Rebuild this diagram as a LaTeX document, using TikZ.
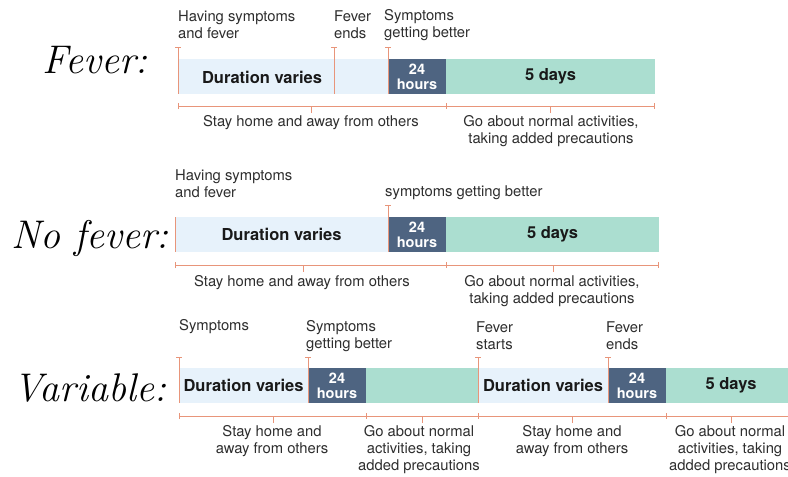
\documentclass[tikz,border=0pt]{standalone}
\usepackage{fontspec}
\newfontfamily\heros{TeX Gyre Heros}
\usetikzlibrary{positioning,arrows.meta}
\definecolor{waitblue}{HTML}{E7F2FB}
\definecolor{hourblue}{HTML}{4E6481}
\definecolor{restgreen}{HTML}{ABDED0}
\definecolor{tickred}{HTML}{E8957A}
\definecolor{labelgray}{HTML}{2E2E2E}

\tikzset{
  seg/.style={inner sep=0pt, outer sep=0pt, minimum height=35pt,
    font=\heros\bfseries\fontsize{16.5}{18}\selectfont, text=black!90},
  wait/.style={seg, fill=waitblue},
  hours/.style={seg, fill=hourblue, text=white, align=center, minimum width=58pt,
    font=\heros\bfseries\fontsize{14.5}{15}\selectfont},
  rest/.style={seg, fill=restgreen},
  toplabel/.style={anchor=west, align=left, inner sep=0pt, text=labelgray,
    font=\heros\fontsize{14.8}{17}\selectfont},
  botlabel/.style={align=center, inner sep=0pt, text=labelgray,
    font=\heros\fontsize{14.8}{17}\selectfont},
  hand/.style={font=\itshape\fontsize{40}{40}\selectfont},
  marker/.style={draw=tickred, line width=1pt},
  capped/.style={marker, {Bar[width=6pt]}-},
  span/.style={draw=tickred, line width=1pt},
  spanends/.style={span, {Bar[width=6pt]}-{Bar[width=6pt]}},
}

\begin{document}
\begin{tikzpicture}[x=1pt, y=-1pt]
\useasboundingbox[fill=white] (0,0) rectangle (788,477);

%% Fever
\node[hand] (fever) at (95,60) {Fever:};
\node[wait, minimum width=210pt, anchor=north west] (f1) at (178,59) {};
\node[hours, right=0pt of f1] (f2) {24\\hours};
\node[rest, minimum width=209pt, right=0pt of f2] (f3) {5 days};
\node[seg] (f1t) at (262,77) {Duration varies};
% markers
\coordinate (f1m) at (178,47);
\coordinate (f2m) at (334,47);
\coordinate (f3m) at (f2.north west |- f1m);
\draw[capped] (f1m) -- (f1m |- f1.south);
\draw[capped] (f2m) -- (f2m |- f1.south);
\draw[capped] (f3m) -- (f2.south west);
\node[toplabel] (f1l) at (178,25) {Having symptoms\\and fever};
\node[toplabel] (f2l) at (334,25) {Fever\\ends};
\node[toplabel] (f3l) at (384,25) {Symptoms\\getting better};
% span below
\coordinate (fs) at (178,106);
\draw[spanends] (fs) -- (fs -| f3.east);
\draw[span] (fs -| f2.east) ++(0,-3) -- ++(0,6);
\draw[span] (fs -| 311,0) -- ++(0,7);
\draw[span] (fs -| 550,0) -- ++(0,7);
\node[botlabel] (f1b) at (311,123) {Stay home and away from others};
\node[botlabel] (f2b) at (551,131) {Go about normal activities,\\taking added precautions};

%% No fever
\node[hand] (nofever) at (90,238) {No fever:};
\node[wait, minimum width=213pt, anchor=north west] (n1) at (175,217) {Duration varies};
\node[hours, right=0pt of n1] (n2) {24\\hours};
\node[rest, minimum width=213pt, right=0pt of n2] (n3) {5 days};
% markers
\draw[marker, line width=.7pt] (n1.north west) -- (n1.south west);
\draw[capped] (n2.north west) ++(0,-12) -- (n2.south west);
\node[toplabel] (n1l) at (175,184) {Having symptoms\\and fever};
\node[toplabel] (n2l) at (385,193) {symptoms getting better};
% span below
\coordinate (ns) at (175,265);
\draw[spanends] (ns) -- (ns -| n3.east);
\draw[span] (ns -| n2.east) ++(0,-3) -- ++(0,6);
\draw[span] (ns -| 303,0) -- ++(0,7);
\draw[span] (ns -| 553,0) -- ++(0,7);
\node[botlabel] (n1b) at (302,283) {Stay home and away from others};
\node[botlabel] (n2b) at (552,291) {Go about normal activities,\\taking added precautions};

%% Variable
\node[hand] (variable) at (90,388) {Variable:};
\node[wait, minimum width=129pt, anchor=north west] (v1) at (179,368) {Duration varies};
\node[hours, right=0pt of v1] (v2) {24\\hours};
\node[rest, minimum width=112pt, right=0pt of v2] (v3) {};
\node[wait, minimum width=130pt, right=0pt of v3] (v4) {Duration varies};
\node[hours, right=0pt of v4] (v5) {24\\hours};
\node[rest, minimum width=130pt, right=0pt of v5] (v6) {5 days};
% markers
\foreach \seg in {v1,v2,v4,v5}
  \draw[capped] (\seg.north west) ++(0,-11) -- (\seg.south west);
\node[toplabel] (v1l) at (179,327) {Symptoms};
\node[toplabel] (v2l) at (306,336) {Symptoms\\getting better};
\node[toplabel] (v4l) at (476,336) {Fever\\starts};
\node[toplabel] (v5l) at (606,336) {Fever\\ends};
% span below
\coordinate (vs) at (179,416);
\draw[span, {Bar[width=6pt]}-] (vs) -- (vs -| v6.east);
\foreach \seg in {v2,v3,v5}
  \draw[span] (vs -| \seg.east) ++(0,-3) -- ++(0,6);
\foreach \x in {273,422,572,731}
  \draw[span] (vs -| \x,0) -- ++(0,7);
\node[botlabel] (v1b) at (272,441) {Stay home and\\away from others};
\node[botlabel] (v2b) at (419,450) {Go about normal\\activities, taking\\added precautions};
\node[botlabel] (v4b) at (572,441) {Stay home and\\away from others};
\node[botlabel] (v6b) at (730,450) {Go about normal\\activities, taking\\added precautions};
\end{tikzpicture}
\end{document}
